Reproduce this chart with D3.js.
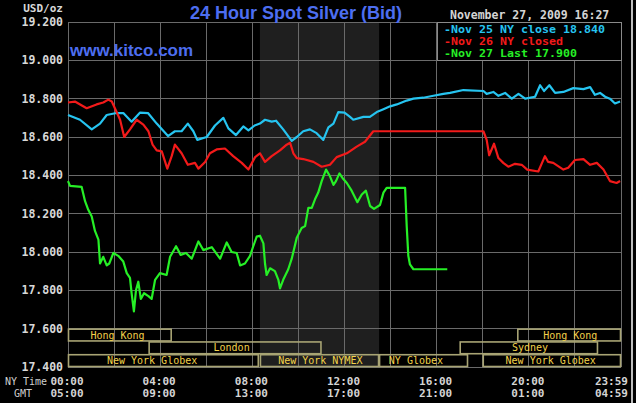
<!DOCTYPE html>
<html><head><meta charset="utf-8">
<script src="https://cdn.jsdelivr.net/npm/d3@7"></script>
<style>html,body{margin:0;padding:0;background:#000;overflow:hidden}</style>
</head><body>
<script>
// ---------- data ----------
const yTicks = [17.4,17.6,17.8,18.0,18.2,18.4,18.6,18.8,19.0,19.2];
const timeTickHours = [0,4,8,12,16,20,24];
const nyTimeLabels = ["00:00","04:00","08:00","12:00","16:00","20:00","23:59"];
const gmtLabels = ["05:00","09:00","13:00","17:00","21:00","01:00","04:59"];
const legendLabels = ["-Nov 25 NY close 18.840","-Nov 26 NY closed","-Nov 27 Last 17.900"];
const dateLabel = "November 27, 2009 16:27";
const nymexHours = [8.33, 13.5];
// sessions: name, start hour, end hour, row, label hour
const sessionNames = ["Hong Kong","London","New York Globex","New York NYMEX","NY Globex","New York Globex","Sydney","Hong Kong"];
const sessionStart = [0,3.5,0,8.33,13.5,18,17,19.5];
const sessionEnd   = [4.5,11,8.28,13.5,17.36,24,23,24];
const sessionRow   = [0,1,2,2,2,2,1,0];
const sessionLabelAt = [2.15,7.1,3.65,10.95,15.1,20.95,20.05,21.8];

const nov25 = [[0,18.715],[0.52,18.69],[1.03,18.64],[1.39,18.67],[1.68,18.715],[2.1,18.725],[2.4,18.725],[2.76,18.68],[3.12,18.727],[3.47,18.725],[3.85,18.67],[4.34,18.605],[4.64,18.63],[4.93,18.63],[5.2,18.67],[5.44,18.63],[5.61,18.585],[6.02,18.6],[6.38,18.66],[6.74,18.70],[6.96,18.645],[7.29,18.61],[7.61,18.655],[7.83,18.635],[8.1,18.66],[8.33,18.67],[8.55,18.69],[8.84,18.68],[9.03,18.685],[9.34,18.64],[9.71,18.58],[9.93,18.60],[10.21,18.63],[10.5,18.64],[10.79,18.62],[11.08,18.585],[11.3,18.65],[11.52,18.67],[11.73,18.73],[12.0,18.727],[12.24,18.705],[12.38,18.69],[12.82,18.705],[13.1,18.705],[13.4,18.73],[13.69,18.745],[13.98,18.76],[14.27,18.77],[14.7,18.79],[14.99,18.80],[15.42,18.805],[15.86,18.815],[16.29,18.825],[16.58,18.83],[17.16,18.845],[18.03,18.84],[18.17,18.825],[18.46,18.835],[18.68,18.815],[18.97,18.83],[19.26,18.80],[19.55,18.825],[19.84,18.80],[20.27,18.81],[20.49,18.87],[20.66,18.84],[20.89,18.87],[21.14,18.83],[21.5,18.835],[21.93,18.855],[22.37,18.85],[22.66,18.86],[22.87,18.82],[23.09,18.83],[23.31,18.81],[23.52,18.80],[23.74,18.775],[23.96,18.785]];
const nov26 = [[0,18.78],[0.3,18.785],[0.81,18.75],[1.24,18.77],[1.53,18.78],[1.75,18.795],[1.9,18.785],[2.11,18.73],[2.26,18.69],[2.44,18.60],[2.69,18.64],[2.98,18.69],[3.27,18.665],[3.49,18.63],[3.67,18.56],[3.85,18.53],[4.07,18.525],[4.31,18.435],[4.5,18.50],[4.64,18.56],[4.93,18.515],[5.2,18.455],[5.51,18.465],[5.66,18.435],[5.95,18.47],[6.16,18.515],[6.45,18.535],[6.81,18.54],[7.17,18.50],[7.54,18.465],[7.83,18.43],[8.12,18.495],[8.33,18.515],[8.55,18.47],[8.84,18.50],[9.2,18.53],[9.49,18.56],[9.64,18.57],[9.78,18.515],[9.93,18.49],[10.21,18.485],[10.65,18.47],[11.01,18.445],[11.37,18.455],[11.66,18.495],[12.1,18.515],[12.53,18.55],[12.89,18.575],[13.25,18.63],[18.03,18.63],[18.17,18.585],[18.28,18.505],[18.49,18.565],[18.68,18.49],[18.89,18.465],[19.11,18.445],[19.4,18.46],[19.69,18.455],[19.93,18.43],[20.41,18.42],[20.7,18.50],[20.84,18.47],[21.06,18.465],[21.5,18.43],[21.71,18.44],[22.0,18.48],[22.37,18.485],[22.66,18.455],[22.95,18.465],[23.24,18.43],[23.52,18.37],[23.81,18.36],[23.96,18.37]];
const nov27 = [[0,18.37],[0.09,18.345],[0.59,18.34],[0.74,18.265],[0.88,18.22],[1.03,18.185],[1.17,18.11],[1.32,18.065],[1.39,17.94],[1.53,17.975],[1.68,17.93],[1.79,17.94],[1.97,17.995],[2.18,17.98],[2.4,17.95],[2.55,17.89],[2.69,17.865],[2.76,17.785],[2.86,17.69],[2.95,17.80],[3.05,17.845],[3.16,17.755],[3.3,17.785],[3.49,17.77],[3.63,17.755],[3.78,17.855],[3.99,17.89],[4.28,17.88],[4.43,17.975],[4.69,18.03],[4.89,17.985],[5.12,17.995],[5.37,17.965],[5.66,18.055],[5.87,18.01],[6.24,18.025],[6.6,17.965],[6.89,18.05],[7.1,18.00],[7.32,17.995],[7.47,17.93],[7.68,17.94],[7.9,17.98],[8.04,18.03],[8.19,18.08],[8.33,18.085],[8.48,18.045],[8.55,17.94],[8.62,17.88],[8.77,17.915],[8.98,17.90],[9.13,17.855],[9.2,17.81],[9.34,17.855],[9.56,17.91],[9.71,17.965],[9.93,18.075],[10.14,18.125],[10.29,18.135],[10.43,18.23],[10.58,18.23],[10.72,18.275],[10.86,18.31],[11.01,18.37],[11.2,18.43],[11.37,18.395],[11.52,18.35],[11.63,18.37],[11.78,18.41],[11.92,18.385],[12.1,18.36],[12.31,18.32],[12.56,18.26],[12.75,18.30],[12.93,18.32],[13.11,18.24],[13.28,18.225],[13.54,18.245],[13.69,18.31],[13.83,18.335],[14.63,18.335],[14.7,18.135],[14.77,17.98],[14.84,17.935],[14.99,17.91],[16.46,17.91]];

// ---------- layout ----------
const W = 636, H = 403;
const mono = "'DejaVu Sans Mono', monospace";
const svg = d3.select("body").append("svg").attr("width", W).attr("height", H)
  .style("background", "#000");
const x = d3.scaleLinear().domain([0,24]).range([68,621]);
const y = d3.scaleLinear().domain([17.4,19.2]).range([367,22]);

// NYMEX shaded area
svg.append("rect").attr("x", x(nymexHours[0])).attr("y", y(19.2))
  .attr("width", x(nymexHours[1]) - x(nymexHours[0])).attr("height", y(17.4) - y(19.2))
  .attr("fill", "#1f1f1f");

// grid
const gridColor = "#6a6a6a";
svg.append("g").selectAll("line").data(d3.range(0,25,2)).join("line")
  .attr("x1", d => x(d)).attr("x2", d => x(d)).attr("y1", y(19.2)).attr("y2", y(17.4))
  .attr("stroke", gridColor).attr("stroke-width", 1).attr("shape-rendering","crispEdges");
svg.append("g").selectAll("line").data(yTicks).join("line")
  .attr("x1", x(0)).attr("x2", x(24)).attr("y1", d => y(d)).attr("y2", d => y(d))
  .attr("stroke", gridColor).attr("stroke-width", 1).attr("shape-rendering","crispEdges");

// y tick labels
svg.append("g").selectAll("text").data(yTicks).join("text")
  .attr("x", 63).attr("y", d => y(d)).attr("dy", "0.36em")
  .attr("text-anchor", "end").attr("fill", "#d8d8d8")
  .style("font", `bold 11.5px ${mono}`)
  .text(d => d.toFixed(3));
svg.append("text").attr("x", 63).attr("y", 12).attr("text-anchor","end")
  .attr("fill","#d8d8d8").style("font", `bold 11px ${mono}`).text("USD/oz");

// session bars
const rowH = (y(17.4) - y(17.6)) / 3;
const sessions = sessionNames.map((n,i) => ({name:n, s:sessionStart[i], e:sessionEnd[i], row:sessionRow[i], at:sessionLabelAt[i]}));
const sg = svg.append("g");
sg.selectAll("rect").data(sessions).join("rect")
  .attr("x", d => x(d.s) + 0.5).attr("y", d => y(17.6) + d.row*rowH + 0.5)
  .attr("width", d => x(d.e) - x(d.s) - 1).attr("height", rowH - 1)
  .attr("fill", "none").attr("stroke", "#a8a474").attr("stroke-width", 1.6);
sg.selectAll("text").data(sessions).join("text")
  .attr("x", d => x(d.at)).attr("y", d => y(17.6) + d.row*rowH + rowH/2).attr("dy","0.36em")
  .attr("text-anchor","middle").attr("fill","#f2d24a")
  .style("font", `10px ${mono}`).text(d => d.name);

// lines
const line = d3.line().x(d => x(d[0])).y(d => y(d[1]));
const series = [
  {data: nov25, color: "#26c4f0"},
  {data: nov26, color: "#f21a1a"},
  {data: nov27, color: "#26ef26"}
];
svg.append("g").selectAll("path").data(series).join("path")
  .attr("d", d => line(d.data)).attr("fill","none")
  .attr("stroke", d => d.color).attr("stroke-width", 2.2).attr("stroke-linejoin","round");

// legend
svg.append("rect").attr("x", 437.5).attr("y", y(19.2)).attr("width", x(24) - 437.5).attr("height", y(19.0) - y(19.2))
  .attr("fill", "#000").attr("stroke", "#8a8a8a").attr("stroke-width", 1).attr("shape-rendering","crispEdges");
svg.append("g").selectAll("text").data(legendLabels).join("text")
  .attr("x", 444).attr("y", (d,i) => 33 + i*12)
  .attr("fill", (d,i) => series[i].color)
  .attr("textLength", d => d.length * 7.0).attr("lengthAdjust", "spacingAndGlyphs")
  .style("font", `bold 10px ${mono}`).text(d => d);

svg.append("text").attr("x", 450).attr("y", 19).attr("fill", "#d4d4d4")
  .style("font", `bold 11.5px ${mono}`).text(dateLabel);

// titles
svg.append("text").attr("x", 296).attr("y", 19).attr("text-anchor","middle")
  .attr("fill", "#4d6ef0").style("font", "bold 18px 'Liberation Sans', Arial, sans-serif")
  .text("24 Hour Spot Silver (Bid)");
svg.append("text").attr("x", 70).attr("y", 56)
  .attr("fill", "#4d6ef0").style("font", "bold 17px 'Liberation Sans', Arial, sans-serif")
  .text("www.kitco.com");

// time axis
svg.append("text").attr("x", 5).attr("y", 385).attr("fill","#cfcfcf")
  .style("font", `10px ${mono}`).text("NY Time");
svg.append("text").attr("x", 14).attr("y", 397).attr("fill","#cfcfcf")
  .style("font", `10px ${mono}`).text("GMT");
const tl = svg.append("g");
timeTickHours.forEach((h,i) => {
  const last = i === timeTickHours.length - 1;
  const tx = last ? x(h) + 7 : x(h) - 1;
  const anchor = last ? "end" : "middle";
  tl.append("text").attr("x", tx).attr("y", 385).attr("text-anchor", anchor)
    .attr("fill","#d4d4d4").style("font", `bold 11px ${mono}`).text(nyTimeLabels[i]);
  tl.append("text").attr("x", tx).attr("y", 397).attr("text-anchor", anchor)
    .attr("fill","#d4d4d4").style("font", `bold 11px ${mono}`).text(gmtLabels[i]);
});

// right edge strip
svg.append("rect").attr("x", 631).attr("y", 0).attr("width", 2).attr("height", H).attr("fill", "#bdbdbd");
</script>
</body></html>
